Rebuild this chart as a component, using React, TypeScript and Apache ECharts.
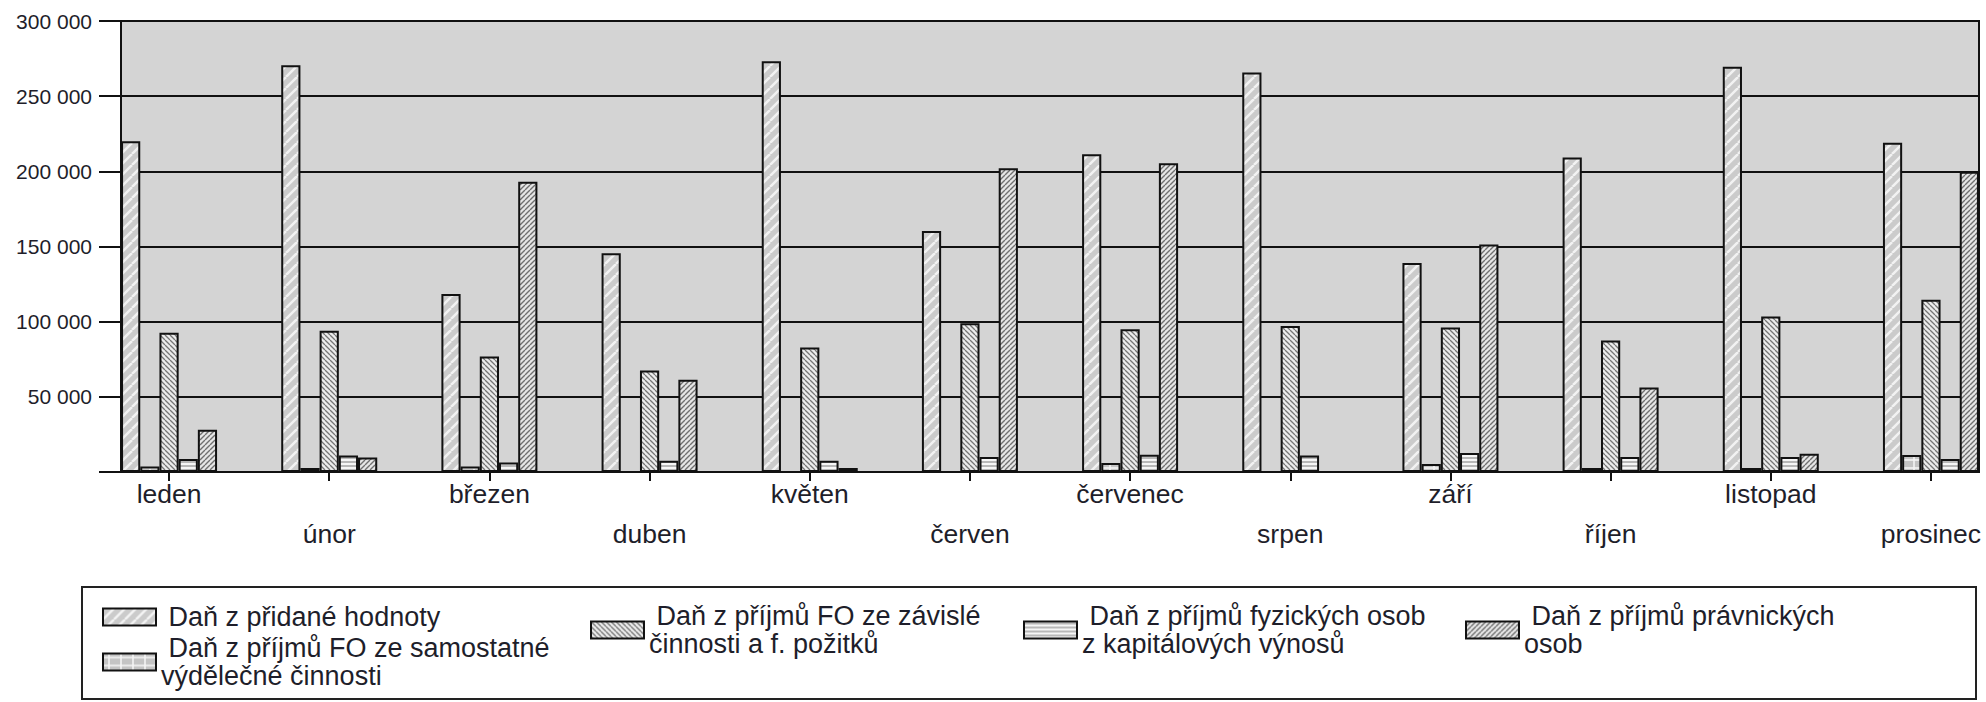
import React, { useEffect, useRef } from "react";
import * as echarts from "echarts";

const months = ["leden", "únor", "březen", "duben", "květen", "červen", "červenec", "srpen", "září", "říjen", "listopad", "prosinec"];

const seriesNames = [
  "Daň z přidané hodnoty",
  "Daň z příjmů FO ze samostatné výdělečné činnosti",
  "Daň z příjmů FO ze závislé činnosti a f. požitků",
  "Daň z příjmů fyzických osob z kapitálových výnosů",
  "Daň z příjmů právnických osob",
];

const legendLabels = [
  " Daň z přidané hodnoty",
  " Daň z příjmů FO ze samostatné\nvýdělečné činnosti",
  " Daň z příjmů FO ze závislé\nčinnosti a f. požitků",
  " Daň z příjmů fyzických osob\nz kapitálových výnosů",
  " Daň z příjmů právnických\nosob",
];

const dph = [220000, 270500, 118400, 145500, 273200, 160300, 211400, 265700, 139000, 209200, 269500, 219000];
const samostatne = [3700, 2700, 3700, 0, 0, 0, 6000, 0, 5300, 2700, 2700, 11300];
const zavisle = [92700, 93900, 76800, 67500, 82800, 99000, 95000, 97200, 96100, 87400, 103400, 114500];
const kapitalove = [8600, 11000, 6400, 7500, 7500, 10000, 11500, 11000, 12600, 10000, 10000, 8600];
const pravnicke = [28100, 9700, 193000, 61300, 2700, 202000, 205300, 0, 151400, 56200, 12200, 199700];

const FONT = "'Liberation Sans', Arial, sans-serif";

function makePattern(kind: string, w: number, h: number, bg: string, fg: string, lw: number) {
  const c = document.createElement("canvas");
  c.width = w;
  c.height = h;
  const ctx = c.getContext("2d")!;
  ctx.fillStyle = bg;
  ctx.fillRect(0, 0, w, h);
  ctx.strokeStyle = fg;
  ctx.lineWidth = lw;
  ctx.beginPath();
  if (kind === "/") {
    for (const o of [-w, 0, w]) {
      ctx.moveTo(o, h);
      ctx.lineTo(o + w, 0);
    }
  } else if (kind === "\\") {
    for (const o of [-w, 0, w]) {
      ctx.moveTo(o, 0);
      ctx.lineTo(o + w, h);
    }
  } else if (kind === "-") {
    ctx.moveTo(0, h / 2);
    ctx.lineTo(w, h / 2);
  } else if (kind === "+") {
    ctx.moveTo(0, h / 2);
    ctx.lineTo(w, h / 2);
    ctx.moveTo(w / 2, 0);
    ctx.lineTo(w / 2, h);
  }
  ctx.stroke();
  return { image: c.toDataURL(), repeat: "repeat", imageWidth: w, imageHeight: h };
}

function fmtThousands(v: number) {
  if (v === 0) return "";
  return String(v).replace(/\B(?=(\d{3})+(?!\d))/g, " ");
}

export default function App() {
  const ref = useRef<HTMLDivElement>(null);
  useEffect(() => {
    const chart = echarts.init(ref.current!, null, { renderer: "svg" });
    const patterns = [
      makePattern("/", 11, 11, "#cbcbcb", "#f2f2f2", 2.5),
      makePattern("+", 12, 8, "#c4c4c4", "#f6f6f6", 1.5),
      makePattern("\\", 5, 5, "#ececec", "#767676", 1.3),
      makePattern("-", 4, 4, "#f6f6f6", "#8f8f8f", 1.2),
      makePattern("/", 5, 5, "#e6e6e6", "#707070", 1.4),
    ];
    const values = [dph, samostatne, zavisle, kapitalove, pravnicke];
    const idx = months.map((_, i) => i);

    const legendPos = [
      { left: 102, top: 603, pad: 0 },
      { left: 102, top: 629, pad: 10 },
      { left: 590, top: 596, pad: 12 },
      { left: 1023, top: 596, pad: 12 },
      { left: 1465, top: 596, pad: 12 },
    ];

    const option: any = {
      animation: false,
      backgroundColor: "#ffffff",
      textStyle: { fontFamily: FONT },
      grid: {
        left: 121,
        right: 7,
        top: 21,
        bottom: 230,
        show: true,
        backgroundColor: "#d4d4d4",
        borderColor: "#111",
        borderWidth: 2,
      },
      xAxis: {
        type: "value",
        min: -0.3,
        max: 11.3,
        axisLine: { show: true, onZero: false, lineStyle: { color: "#111", width: 2 } },
        axisTick: { show: true, customValues: idx, length: 9, lineStyle: { color: "#111", width: 2 } },
        axisLabel: {
          customValues: idx,
          formatter: (v: number) => {
            const i = Math.round(v);
            return i % 2 === 0 ? months[i] : "\n" + months[i];
          },
          margin: 2,
          fontSize: 26.5,
          lineHeight: 40,
          color: "#1e1e2a",
          fontFamily: FONT,
          verticalAlign: "top",
        },
        splitLine: { show: false },
      },
      yAxis: {
        type: "value",
        min: 0,
        max: 300000,
        interval: 50000,
        axisLine: { show: true, onZero: false, lineStyle: { color: "#111", width: 2 } },
        axisTick: { show: true, length: 22, lineStyle: { color: "#111", width: 2 } },
        axisLabel: {
          formatter: (v: number) => fmtThousands(v),
          margin: 29,
          fontSize: 21,
          color: "#1e1e2a",
          fontFamily: FONT,
        },
        splitLine: { show: true, lineStyle: { color: "#111", width: 2 } },
      },
      legend: legendPos.map((p, k) => ({
        data: [seriesNames[k]],
        left: p.left,
        top: p.top,
        padding: 0,
        icon: "rect",
        itemWidth: 53,
        itemHeight: 17,
        selectedMode: false,
        itemStyle: { borderColor: "#111", borderWidth: 2 },
        formatter: () => legendLabels[k],
        textStyle: {
          fontSize: 27,
          lineHeight: 28,
          color: "#1e1e2a",
          fontFamily: FONT,
          padding: [0, 0, p.pad, 0],
        },
      })),
      graphic: [
        {
          type: "rect",
          shape: { x: 82, y: 587, width: 1894, height: 112 },
          style: { fill: "none", stroke: "#222", lineWidth: 2 },
          silent: true,
          z: 0,
        },
      ],
      series: values.map((arr, k) => ({
        name: seriesNames[k],
        type: "bar",
        barWidth: 19.2,
        barGap: "0%",
        data: arr.map((v, i) => [i, v]),
        itemStyle: { color: patterns[k], borderColor: "#111", borderWidth: 2 },
      })),
    };
    chart.setOption(option);
    return () => chart.dispose();
  }, []);
  return (
    <div
      ref={ref}
      style={{ position: "absolute", left: 0, top: 0, width: 1986, height: 702, background: "#fff" }}
    />
  );
}
